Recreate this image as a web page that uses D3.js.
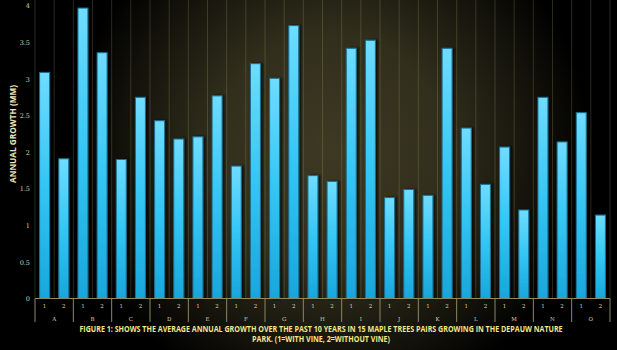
<!DOCTYPE html>
<html>
<head>
<meta charset="utf-8">
<script src="https://cdn.jsdelivr.net/npm/d3@7"></script>
<style>
  html, body { margin: 0; padding: 0; background: #000; }
  svg { display: block; }
</style>
</head>
<body>
<svg id="chart" width="617" height="350"></svg>
<script>
// Maple tree pairs and their average annual growth (mm)
const trees = ["A","B","C","D","E","F","G","H","I","J","K","L","M","N","O"];
const members = ["1", "2"];
const withVine    = [3.09, 3.97, 1.90, 2.43, 2.21, 1.81, 3.01, 1.68, 3.42, 1.38, 1.41, 2.33, 2.07, 2.75, 2.54];
const withoutVine = [1.91, 3.36, 2.75, 2.18, 2.77, 3.21, 3.73, 1.60, 3.53, 1.49, 3.42, 1.56, 1.21, 2.14, 1.14];
const yTicks = [0, 0.5, 1, 1.5, 2, 2.5, 3, 3.5, 4];
const yTitle = "ANNUAL GROWTH (MM)";
const captionLines = [
  "FIGURE 1: SHOWS THE AVERAGE ANNUAL GROWTH OVER THE PAST 10 YEARS IN 15 MAPLE TREES PAIRS GROWING IN THE DEPAUW NATURE",
  "PARK. (1=WITH VINE, 2=WITHOUT VINE)"
];

const svg = d3.select("#chart");
const W = 617, H = 350;
const plot = { left: 35, right: 610, top: 5.9, bottom: 298.5 };

const defs = svg.append("defs");

// Background glow
const bg = defs.append("radialGradient")
  .attr("id", "bgGlow")
  .attr("gradientUnits", "userSpaceOnUse")
  .attr("cx", 330).attr("cy", 150).attr("r", 260);
[[0, "#3d3923"], [0.45, "#312e1c"], [0.75, "#17160d"], [1, "#000000"]]
  .forEach(([o, c]) => bg.append("stop").attr("offset", o).attr("stop-color", c));

// Bar fill
const barGrad = defs.append("linearGradient")
  .attr("id", "barFill").attr("x1", 0).attr("y1", 0).attr("x2", 0).attr("y2", 1);
[[0, "#6fdcff"], [0.5, "#34c6f4"], [1, "#18a6dc"]]
  .forEach(([o, c]) => barGrad.append("stop").attr("offset", o).attr("stop-color", c));

const shadow = defs.append("filter").attr("id", "barShadow")
  .attr("x", "-50%").attr("y", "-10%").attr("width", "200%").attr("height", "120%");
shadow.append("feDropShadow").attr("dx", 2).attr("dy", 0).attr("stdDeviation", 1)
  .attr("flood-color", "#000").attr("flood-opacity", 0.7);

svg.append("rect").attr("width", W).attr("height", H).attr("fill", "#000");
svg.append("rect").attr("width", W).attr("height", H).attr("fill", "url(#bgGlow)");

// Scales
const x0 = d3.scaleBand().domain(trees).range([plot.left, plot.right]).padding(0);
const x1 = d3.scaleBand().domain(members).range([0, x0.bandwidth()])
  .paddingInner(0.48).paddingOuter(0.24);
const y = d3.scaleLinear().domain([0, 4]).range([plot.bottom, plot.top]);

// Vertical grid at every bar slot boundary
const slot = x0.bandwidth() / 2;
const gridXs = d3.range(trees.length * 2 + 1).map(i => plot.left + i * slot);
svg.append("g").selectAll("line").data(gridXs).join("line")
  .attr("x1", d => d).attr("x2", d => d)
  .attr("y1", 0).attr("y2", plot.bottom)
  .attr("stroke", "rgba(190,180,120,0.22)").attr("stroke-width", 1);

// Bars
const rows = trees.map((t, i) => ({ tree: t, values: [
  { key: "1", v: withVine[i] }, { key: "2", v: withoutVine[i] }
]}));

const groups = svg.append("g").selectAll("g").data(rows).join("g")
  .attr("transform", d => `translate(${x0(d.tree)},0)`);
groups.selectAll("rect").data(d => d.values).join("rect")
  .attr("x", d => x1(d.key))
  .attr("y", d => y(d.v))
  .attr("width", x1.bandwidth())
  .attr("height", d => y(0) - y(d.v))
  .attr("fill", "url(#barFill)")
  .attr("stroke", "#1d6f8e").attr("stroke-width", 1)
  .attr("filter", "url(#barShadow)");

// Y axis labels
const yAxis = svg.append("g")
  .attr("transform", `translate(${plot.left - 5},0)`)
  .call(d3.axisLeft(y).tickValues(yTicks).tickSize(0).tickPadding(0).tickFormat(d3.format("")));
yAxis.select(".domain").remove();
yAxis.selectAll("text")
  .attr("fill", "#d9d2b0").attr("font-family", "'DejaVu Serif', serif").attr("font-size", 6.5);

// Y axis title
svg.append("text")
  .attr("transform", "translate(16,134) rotate(-90)")
  .attr("text-anchor", "middle")
  .attr("font-family", "'Open Sans', sans-serif").attr("font-weight", 700)
  .attr("font-size", 9).attr("fill", "#efe6b4")
  .attr("textLength", 98).attr("lengthAdjust", "spacingAndGlyphs")
  .text(yTitle);

// Category axis: baseline, group separators, member labels, tree labels
const axisColor = "#8d8762";
svg.append("line")
  .attr("x1", plot.left).attr("x2", plot.right)
  .attr("y1", plot.bottom).attr("y2", plot.bottom)
  .attr("stroke", axisColor).attr("stroke-width", 1.2);

const sepXs = trees.map(t => x0(t)).concat([plot.right]);
svg.append("g").selectAll("line").data(sepXs).join("line")
  .attr("x1", d => d).attr("x2", d => d)
  .attr("y1", plot.bottom).attr("y2", 322)
  .attr("stroke", axisColor).attr("stroke-width", 1);

const memberAxis = svg.append("g");
rows.forEach(r => {
  r.values.forEach(m => {
    memberAxis.append("text")
      .attr("x", x0(r.tree) + x1(m.key) + x1.bandwidth() / 2)
      .attr("y", 308)
      .attr("text-anchor", "middle")
      .attr("font-family", "'DejaVu Serif', serif").attr("font-size", 5.5)
      .attr("fill", "#d9d2b0")
      .text(m.key);
  });
});
svg.append("g").selectAll("text").data(trees).join("text")
  .attr("x", d => x0(d) + x0.bandwidth() / 2)
  .attr("y", 320.5)
  .attr("text-anchor", "middle")
  .attr("font-family", "'DejaVu Serif', serif").attr("font-size", 5.5)
  .attr("fill", "#d9d2b0")
  .text(d => d);

// Caption, condensed horizontally to the figure width
const capWidths = [484, 138];
const cx = 321;
svg.append("g").selectAll("g").data(captionLines).join("g")
  .attr("class", "caption-line")
  .each(function (d, i) {
    const g = d3.select(this);
    const t = g.append("text")
      .attr("x", 0).attr("y", 0)
      .attr("text-anchor", "middle")
      .attr("font-family", "'Open Sans', sans-serif").attr("font-weight", 700)
      .attr("font-size", 8).attr("fill", "#f4e58a")
      .text(d);
    const natural = t.node().getComputedTextLength();
    const k = Math.min(1, capWidths[i] / natural);
    g.attr("transform", `translate(${cx},${332 + i * 9.5}) scale(${k},1)`);
  });
</script>
</body>
</html>
